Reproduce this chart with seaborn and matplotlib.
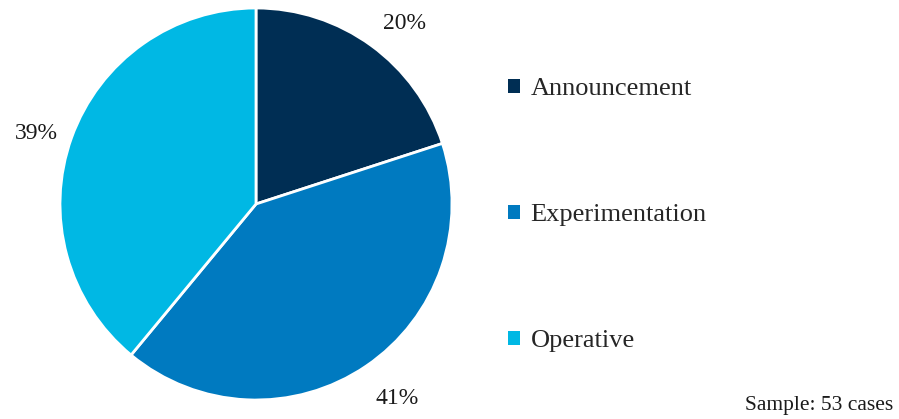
import matplotlib
matplotlib.use("Agg")
import matplotlib.pyplot as plt
from matplotlib.patches import Patch
import seaborn as sns

categories = ["Announcement", "Experimentation", "Operative"]
shares = [20, 41, 39]
colors = ["#002E54", "#007AC0", "#00B8E4"]
note = "Sample: 53 cases"

sns.set_theme(style="white")
plt.rcParams["font.family"] = ["Liberation Serif", "DejaVu Serif"]

W, H = 899, 419
fig = plt.figure(figsize=(W / 100, H / 100), dpi=100)
cx, cy, r = 256, 215, 196
ax = fig.add_axes([(cx - r) / W, (cy - r) / H, 2 * r / W, 2 * r / H])

wedges, texts, autotexts = ax.pie(
    shares,
    colors=colors,
    startangle=90,
    counterclock=False,
    autopct=lambda p: f"{p:.0f}%",
    pctdistance=1.2,
    wedgeprops=dict(edgecolor="white", linewidth=2),
    textprops=dict(fontsize=17, color="#1a1a1a"),
)
ax.set_xlim(-1, 1)
ax.set_ylim(-1, 1)
ax.set_aspect("equal")
ax.axis("off")

# nudge the percentage labels a few pixels (dx, dy in px; y up)
nudges = [(10, -10), (9, 0), (2, -9)]
for t, (dx, dy) in zip(autotexts, nudges):
    x, y = t.get_position()
    t.set_position((x + dx / r, y + dy / r))

handles = [Patch(facecolor=c, edgecolor="none") for c in colors]
fig.legend(
    handles,
    categories,
    loc="upper left",
    bbox_to_anchor=(508 / W, 1 - 78 / H),
    frameon=False,
    fontsize=19,
    handlelength=0.45,
    handleheight=0.45,
    handletextpad=0.4,
    labelspacing=3.95,
    borderpad=0,
    borderaxespad=0,
)

fig.text(893 / W, 1 - 405 / H, note, ha="right", va="center", fontsize=15.5, color="#1a1a1a")

fig.savefig("out.png", dpi=100)
